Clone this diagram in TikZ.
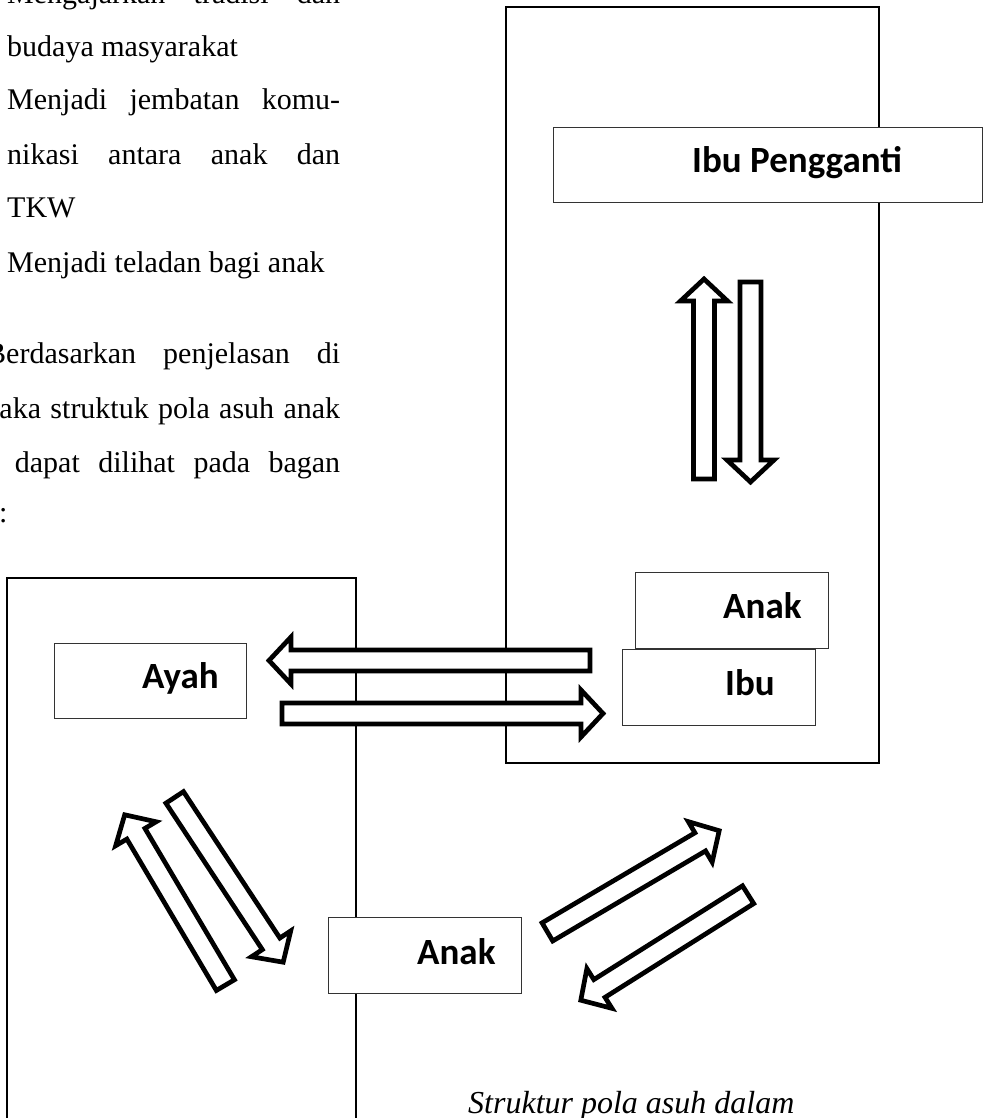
\documentclass[tikz,border=0pt]{standalone}
\usepackage{fontspec}
\setmainfont{Liberation Serif}
\newfontfamily\lblfont{Carlito}
\usetikzlibrary{calc}
\tikzset{
  frame/.style={draw=black, line width=2pt},
  box/.style={draw=black!80, line width=1.2pt, fill=white, inner sep=0pt, anchor=north west},
  lbl/.style={font=\lblfont\bfseries\fontsize{37}{40}\selectfont, inner sep=0pt, anchor=base west},
  body/.style={font=\fontsize{30}{36}\selectfont, inner sep=0pt, anchor=base west},
  capt/.style={font=\itshape\fontsize{32}{38}\selectfont, inner sep=0pt, anchor=base west},
  blockarr/.style={draw=black, fill=white, line width=4.7pt, line join=miter},
}
% #1 name, #2,#3 tail (px, y down), #4,#5 tip
\newcommand{\blockarrow}[5]{%
  \pgfmathsetmacro{\BAdx}{#4-#2}%
  \pgfmathsetmacro{\BAdy}{#3-#5}%
  \pgfmathsetmacro{\BAang}{atan2(\BAdy,\BAdx)}%
  \pgfmathsetmacro{\BAlen}{veclen(\BAdx,\BAdy)}%
  \pgfmathsetmacro{\BAbase}{\BAlen-22}%
  \begin{scope}[shift={(#2,#3)}, rotate=\BAang]
    \draw[blockarr] (0,-10.5) -- (\BAbase,-10.5) -- (\BAbase,-23.5) -- (\BAlen,0)
      -- (\BAbase,23.5) -- (\BAbase,10.5) -- (0,10.5) -- cycle;
    \coordinate (#1-tail) at (0,0);
    \coordinate (#1-tip) at (\BAlen,0);
  \end{scope}}
\begin{document}
\begin{tikzpicture}[x=1pt, y=-1pt]
\useasboundingbox (0,0) rectangle (987,1118);
\clip (0,0) rectangle (987,1118);

% left column text
\node[body] (t1) at (7,4) {\makebox[333pt][s]{Mengajarkan tradisi dan}};
\node[body] (t2) at (7,57) {budaya masyarakat};
\node[body] (t3) at (7,110) {\makebox[333pt][s]{Menjadi jembatan komu-}};
\node[body] (t4) at (7,165) {\makebox[333pt][s]{nikasi antara anak dan}};
\node[body] (t5) at (7,217) {TKW};
\node[body] (t6) at (7,272) {Menjadi teladan bagi anak};

\node[body] (p1) at (-14,363) {\makebox[354pt][s]{Berdasarkan penjelasan di}};
\node[body] (p2) at (-88,418) {\makebox[428pt][s]{atas, maka struktuk pola asuh anak}};
\node[body] (p3) at (-72,472) {\makebox[412pt][s]{TKW dapat dilihat pada bagan}};
\node[body] (p4) at (-86,522) {berikut:};

% frames
\draw[frame] (506,7) rectangle (879,763);
\draw[frame] (7,1140) -- (7,578) -- (356,578) -- (356,1140);

% boxes
\node[box, minimum width=429pt, minimum height=75pt] (ipbox) at (553,127) {};
\node[box, minimum width=193pt, minimum height=76pt] (anak1box) at (635,572) {};
\node[box, minimum width=193pt, minimum height=76pt] (ibubox) at (622,649) {};
\node[box, minimum width=192pt, minimum height=75pt] (ayahbox) at (54,643) {};
\node[box, minimum width=193pt, minimum height=76pt] (anak2box) at (328,917) {};

% labels
\node[lbl] (ip) at (692,173) {Ibu Pengganti};
\node[lbl] (anak1) at (723,618) {Anak};
\node[lbl] (ibu) at (725,695) {Ibu};
\node[lbl] (ayah) at (142,688) {Ayah};
\node[lbl] (anak2) at (417,964) {Anak};

% block arrows
\blockarrow{upV}{704}{479}{704}{279}
\blockarrow{downV}{750.5}{282}{750.5}{482}
\blockarrow{toAyah}{590}{660.5}{269}{660.5}
\blockarrow{toIbu}{282}{713.5}{603}{713.5}
\blockarrow{upL}{225.4}{985.1}{124.7}{814.8}
\blockarrow{downR}{174.7}{797.4}{283.2}{962.2}
\blockarrow{upR}{547.4}{931.9}{719.2}{830.7}
\blockarrow{downL}{748.1}{894.7}{580.8}{1000.2}

% caption
\node[capt] (cap) at (468,1113) {Struktur pola asuh dalam};
\end{tikzpicture}
\end{document}
